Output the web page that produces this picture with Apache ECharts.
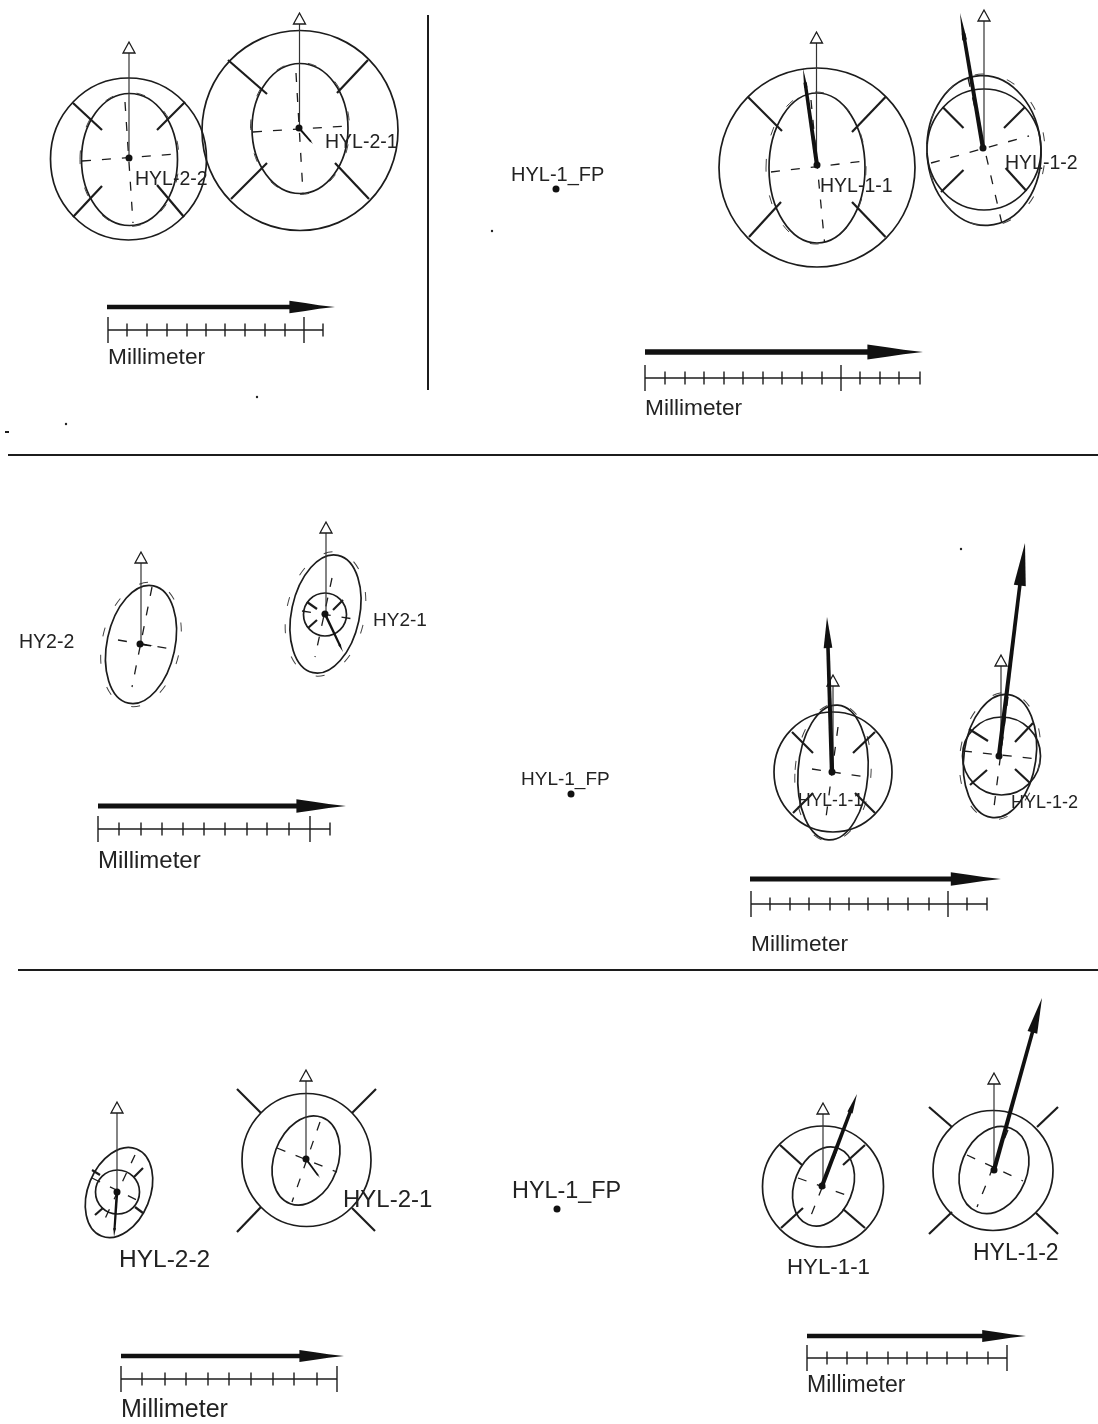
<!DOCTYPE html>
<html>

<head>
    <meta charset="utf-8">
    <script src="https://cdn.jsdelivr.net/npm/echarts@6/dist/echarts.min.js"></script>
    <style>
        html, body { margin: 0; padding: 0; background: #fff; }
    </style>
</head>

<body>
    <div id="main" style="width: 1098px;height:1424px;"></div>
    <script type="text/javascript">
        // all values are read off the picture, x and y in image units
        // ellipses and circles: cx, cy, rx, ry, tilt (deg clockwise)
        var ringEllipses = [
            [128.5, 159, 78, 81, 0], [129.5, 159.5, 48, 66, 0],
            [300, 130.5, 98, 100, 0], [300, 128.5, 48, 65, 0],
            [817, 167.5, 98, 99.5, 0], [817, 168, 48, 75, 0],
            [984, 149.5, 57, 60.5, 0], [984, 150.5, 57, 75, -3],
            [141, 644.5, 34, 60, 12], [325.5, 614, 34, 60, 12], [325, 614.5, 21.5, 21.5, 0],
            [833, 772, 59, 60, 0], [833, 772.5, 35, 67.5, 4],
            [1001.5, 756, 39, 39, 0], [1000, 756, 36, 62, 8],
            [117.5, 1192, 22, 22, 0], [119, 1192.5, 31, 47, 22],
            [306.5, 1160, 64.5, 66.5, 0], [306, 1160.5, 32, 46, 20],
            [823, 1186.5, 60.5, 60.5, 0], [823.5, 1186.5, 29, 41, 22],
            [993, 1170.5, 60, 60, 0], [994, 1170, 33, 45, 22]
        ];
        // broken ellipses just outside the solid ones
        var brokenEllipses = [
            [129.5, 159.5, 49.5, 67, 0], [300, 128.5, 49.5, 66, 0],
            [816, 168, 50, 76, 0], [986, 150, 59, 76, -3],
            [141, 644.5, 39, 63, 12], [325.5, 614, 39, 63, 12],
            [833, 772.5, 38, 69, 4], [1000, 756, 40, 64, 8]
        ];
        // the two dashed axes of each ellipse: x1, y1, x2, y2
        var axisDashes = [
            [82, 161, 177, 154], [125, 102, 133, 223],
            [253, 132, 347, 126], [296, 73, 303, 193],
            [771, 172, 865, 161], [811, 100, 824.5, 242],
            [931, 163, 1029, 136], [968, 78, 1001.6, 222],
            [118, 640, 177, 650], [152, 587, 132, 687],
            [302, 611, 360, 620], [332, 578, 315, 657],
            [812, 769, 866, 777], [838, 727, 825, 825],
            [963, 751, 1038, 759], [1008, 697, 993, 815],
            [92, 1178, 145, 1204], [135, 1155, 102, 1225],
            [277, 1148, 337, 1172], [320, 1122, 292, 1202],
            [798, 1178, 849, 1196], [837, 1150, 808, 1223],
            [967, 1155, 1023, 1181], [1008, 1130, 977, 1207]
        ];
        // the four diagonal marks on each ring: x1, y1, x2, y2
        var ringSpokes = [
            [185, 102, 157, 130], [73, 103, 102, 130], [73, 217, 102, 186], [184, 217, 157, 185],
            [368, 60, 337, 93], [228, 60, 267, 94], [231, 199, 267, 163], [369, 199, 335, 163],
            [885.5, 97, 852, 132], [748, 97, 782, 131], [749, 237, 781, 202], [885.5, 237, 852, 202],
            [1025, 107, 1004, 128], [942.6, 107, 963.5, 128], [941, 192, 963.5, 170], [1026.5, 191, 1005.6, 168],
            [343, 600, 333, 610], [307, 602, 317, 609], [308, 628, 317, 620],
            [875, 732, 853, 753], [792, 732, 813, 753], [793, 813, 813, 793], [875, 813, 855, 793],
            [1033, 723, 1015, 742], [969, 729, 988, 741], [970, 785, 987, 770], [1030, 783, 1015, 769],
            [134, 1177, 143, 1168], [100, 1175, 92, 1170], [95, 1215, 103, 1208], [135, 1207, 143, 1213],
            [376, 1089, 352, 1113], [237, 1089, 261, 1113], [237, 1232, 261, 1207], [375, 1231, 352, 1208],
            [865, 1145, 843, 1165], [780, 1145, 802, 1165], [781, 1228, 803, 1208], [865, 1228, 843, 1209],
            [1058, 1107, 1037, 1127], [929, 1107, 952, 1127], [929, 1234, 952, 1212], [1058, 1234, 1036, 1213]
        ];
        // thin pointers with the hollow head: x, from y, tip y
        var northPointers = [
            [129, 158, 42], [299.5, 128, 13], [816.5, 165, 32], [984, 148, 10],
            [141, 644, 552], [326, 614, 522], [833, 772, 675], [1001, 756, 655],
            [117, 1192, 1102], [306, 1159, 1070], [823, 1186, 1103], [994, 1170, 1073]
        ];
        // heavy pointers: from x, from y, tip x, tip y
        var heavyPointers = [
            [299, 128, 313, 144],
            [140, 644, 153, 646], [325, 614, 343, 652], [832, 772, 827, 617], [999, 756, 1025, 543],
            [117, 1192, 114, 1237], [306, 1159, 320, 1178], [822, 1186, 857, 1094], [994, 1170, 1042, 998]
        ];
        // the two in the first panel end in a narrow needle
        var needlePointers = [
            [817, 165, 803, 68], [983, 148, 960, 13]
        ];
        var stationDots = [
            [129, 158], [299, 128], [817, 165], [983, 148], [140, 644], [325, 614], [832, 772], [999, 756],
            [117, 1192], [306, 1159], [822, 1186], [994, 1170], [556, 189], [571, 794], [557, 1209]
        ];
        // scale bars: arrows x0, x1, y and bars x0, x1, y
        var scaleArrows = [
            [107, 335, 307], [645, 923, 352], [98, 346, 806], [750, 1001, 879], [121, 344, 1356], [807, 1026, 1336]
        ];
        var scaleBars = [
            [108, 323, 330], [645, 920, 378], [98, 330, 829], [751, 987, 904], [121, 337, 1379], [807, 1007, 1358]
        ];
        var scaleMinorTicks = [
            [127, 330], [147, 330], [167, 330], [187, 330], [206, 330], [225, 330], [245, 330], [265, 330], [285, 330], [323, 330],
            [665, 378], [685, 378], [704, 378], [724, 378], [743, 378], [763, 378], [782, 378], [802, 378], [822, 378], [860, 378], [880, 378], [899, 378], [920, 378],
            [119, 829], [141, 829], [162, 829], [183, 829], [204, 829], [225, 829], [247, 829], [267, 829], [289, 829], [330, 829],
            [770, 904], [790, 904], [809, 904], [830, 904], [849, 904], [868, 904], [888, 904], [908, 904], [929, 904], [967, 904], [987, 904],
            [142, 1379], [165, 1379], [186, 1379], [208, 1379], [229, 1379], [251, 1379], [273, 1379], [294, 1379], [317, 1379],
            [827, 1358], [847, 1358], [867, 1358], [888, 1358], [907, 1358], [927, 1358], [947, 1358], [967, 1358], [988, 1358]
        ];
        var scaleMajorTicks = [
            [108, 330], [304, 330], [645, 378], [841, 378], [98, 829], [310, 829],
            [751, 904], [948, 904], [121, 1379], [337, 1379], [807, 1358], [1007, 1358]
        ];
        var rules = [
            [428, 15, 428, 390], [8, 455, 1098, 455], [18, 970, 1098, 970], [5, 432, 9, 432]
        ];
        var specks = [[66, 424], [257, 397], [492, 231], [961, 549]];
        // text, left x, middle y, font size
        var labels = [
            ['HYL-2-2', 135, 180, 19.5], ['HYL-2-1', 325, 143, 19.5], ['Millimeter', 108, 358, 22.7],
            ['HYL-1_FP', 511, 175, 20], ['HYL-1-1', 820, 187, 19.5], ['HYL-1-2', 1005, 164, 19.5], ['Millimeter', 645, 409, 22.7],
            ['HY2-2', 19, 643, 19.5], ['HY2-1', 373, 621, 19], ['Millimeter', 98, 861, 24],
            ['HYL-1_FP', 521, 780, 19], ['HYL-1-1', 798, 801, 17.5], ['HYL-1-2', 1011, 803, 18], ['Millimeter', 751, 945, 22.7],
            ['HYL-2-2', 119, 1260, 24.5], ['HYL-2-1', 343, 1200, 24], ['Millimeter', 121, 1410, 25],
            ['HYL-1_FP', 512, 1192, 23.4], ['HYL-1-1', 787, 1268, 22.3], ['HYL-1-2', 973, 1254, 23], ['Millimeter', 807, 1386, 23]
        ];

        var INK = '#1c1c1c';

        function toPx(api, x, y) {
            return api.coord([x, y]);
        }

        // wrap one array into a custom series, draw gets one row at a time
        function shapes(name, rows, draw) {
            return {
                type: 'custom',
                name: name,
                coordinateSystem: 'cartesian2d',
                silent: true,
                animation: false,
                clip: false,
                data: rows,
                renderItem: function (params, api) {
                    return draw(rows[params.dataIndex], api, params.dataIndex);
                }
            };
        }

        function ellipseShape(row, api, style) {
            var c = toPx(api, row[0], row[1]);
            var size = api.size([row[2], row[3]]);
            return {
                type: 'ellipse',
                x: c[0],
                y: c[1],
                rotation: -row[4] * Math.PI / 180,
                shape: { cx: 0, cy: 0, rx: size[0], ry: size[1] },
                style: style
            };
        }

        function segment(row, api, width, dash) {
            var a = toPx(api, row[0], row[1]);
            var b = toPx(api, row[2], row[3]);
            return {
                type: 'line',
                shape: { x1: a[0], y1: a[1], x2: b[0], y2: b[1] },
                style: { stroke: INK, lineWidth: width, lineDash: dash || null, fill: null }
            };
        }

        // polygon laid along a direction: pts are [along, across]
        function along(a, b, pts) {
            var dx = b[0] - a[0], dy = b[1] - a[1];
            var len = Math.sqrt(dx * dx + dy * dy);
            var ux = dx / len, uy = dy / len;
            return pts.map(function (p) {
                return [a[0] + ux * p[0] * len - uy * p[1] * len, a[1] + uy * p[0] * len + ux * p[1] * len];
            });
        }

        function pointer(row, api, headWidth) {
            var a = toPx(api, row[0], row[1]);
            var b = toPx(api, row[2], row[3]);
            // head over the last fifth of the pointer
            var head = along(a, b, [[0.8, -headWidth], [1, 0], [0.8, headWidth]]);
            var len = Math.sqrt((b[0] - a[0]) * (b[0] - a[0]) + (b[1] - a[1]) * (b[1] - a[1]));
            var half = Math.min(2.2, 0.7 + len / 70) / len;
            var shaft = along(a, b, [[0, -half], [0.85, -half * 0.8], [0.85, half * 0.8], [0, half]]);
            return {
                type: 'group',
                children: [
                    { type: 'polygon', shape: { points: shaft }, style: { fill: '#111' } },
                    { type: 'polygon', shape: { points: head }, style: { fill: '#111' } }
                ]
            };
        }

        var myChart = echarts.init(document.getElementById('main'));

        var option = {
            backgroundColor: '#fff',
            animation: false,
            grid: { left: 0, right: 0, top: 0, bottom: 0 },
            xAxis: { type: 'value', min: 0, max: 1098, show: false },
            yAxis: { type: 'value', min: 0, max: 1424, inverse: true, show: false },
            series: [
                shapes('rings', ringEllipses, function (row, api) {
                    return ellipseShape(row, api, { stroke: INK, lineWidth: 1.7, fill: null });
                }),
                shapes('broken rings', brokenEllipses, function (row, api) {
                    return ellipseShape(row, api, { stroke: '#444', lineWidth: 1, fill: null, lineDash: [9, 24] });
                }),
                shapes('axes', axisDashes, function (row, api) {
                    return segment(row, api, 1.3, [9, 11]);
                }),
                shapes('spokes', ringSpokes, function (row, api) {
                    return segment(row, api, 2.2);
                }),
                shapes('north', northPointers, function (row, api) {
                    var from = toPx(api, row[0], row[1]);
                    var tip = toPx(api, row[0], row[2]);
                    var up = api.size([0, 11])[1];
                    return {
                        type: 'group',
                        children: [{
                            type: 'line',
                            shape: { x1: from[0], y1: from[1], x2: tip[0], y2: tip[1] + up },
                            style: { stroke: '#333', lineWidth: 1.2 }
                        }, {
                            type: 'polygon',
                            shape: { points: [[tip[0], tip[1]], [tip[0] - 6, tip[1] + up], [tip[0] + 6, tip[1] + up]] },
                            style: { stroke: INK, lineWidth: 1.3, fill: '#fff' }
                        }]
                    };
                }),
                shapes('heavy', heavyPointers, function (row, api) {
                    return pointer(row, api, 0.028);
                }),
                shapes('needles', needlePointers, function (row, api) {
                    return pointer(row, api, 0.017);
                }),
                shapes('dots', stationDots, function (row, api) {
                    var c = toPx(api, row[0], row[1]);
                    return {
                        type: 'circle',
                        shape: { cx: c[0], cy: c[1], r: 3.5 },
                        style: { fill: '#111' }
                    };
                }),
                shapes('scale arrows', scaleArrows, function (row, api) {
                    var a = toPx(api, row[0], row[2]);
                    var b = toPx(api, row[1], row[2]);
                    var outline = along(a, b, [
                        [0, -0.01], [0.8, -0.01], [0.8, -0.027], [0.87, -0.017], [0.93, -0.008], [1, 0],
                        [0.93, 0.008], [0.87, 0.017], [0.8, 0.027], [0.8, 0.01], [0, 0.01]
                    ]);
                    return { type: 'polygon', shape: { points: outline }, style: { fill: '#111' } };
                }),
                shapes('scale bars', scaleBars, function (row, api) {
                    return segment([row[0], row[2], row[1], row[2]], api, 1.5);
                }),
                shapes('minor ticks', scaleMinorTicks, function (row, api) {
                    return segment([row[0], row[1] - 6.5, row[0], row[1] + 6.5], api, 1.4);
                }),
                shapes('major ticks', scaleMajorTicks, function (row, api) {
                    return segment([row[0], row[1] - 13, row[0], row[1] + 13], api, 1.4);
                }),
                shapes('rules', rules, function (row, api) {
                    return segment(row, api, 2);
                }),
                shapes('specks', specks, function (row, api) {
                    var c = toPx(api, row[0], row[1]);
                    return { type: 'circle', shape: { cx: c[0], cy: c[1], r: 1.2 }, style: { fill: '#222' } };
                }),
                shapes('labels', labels, function (row, api) {
                    var p = toPx(api, row[1], row[2]);
                    return {
                        type: 'text',
                        x: p[0],
                        y: p[1],
                        style: {
                            text: row[0],
                            fill: '#222',
                            font: row[3] + 'px "Liberation Sans", Arial, sans-serif',
                            textAlign: 'left',
                            textVerticalAlign: 'middle'
                        }
                    };
                })
            ]
        };

        myChart.setOption(option);
    </script>
</body>

</html>
